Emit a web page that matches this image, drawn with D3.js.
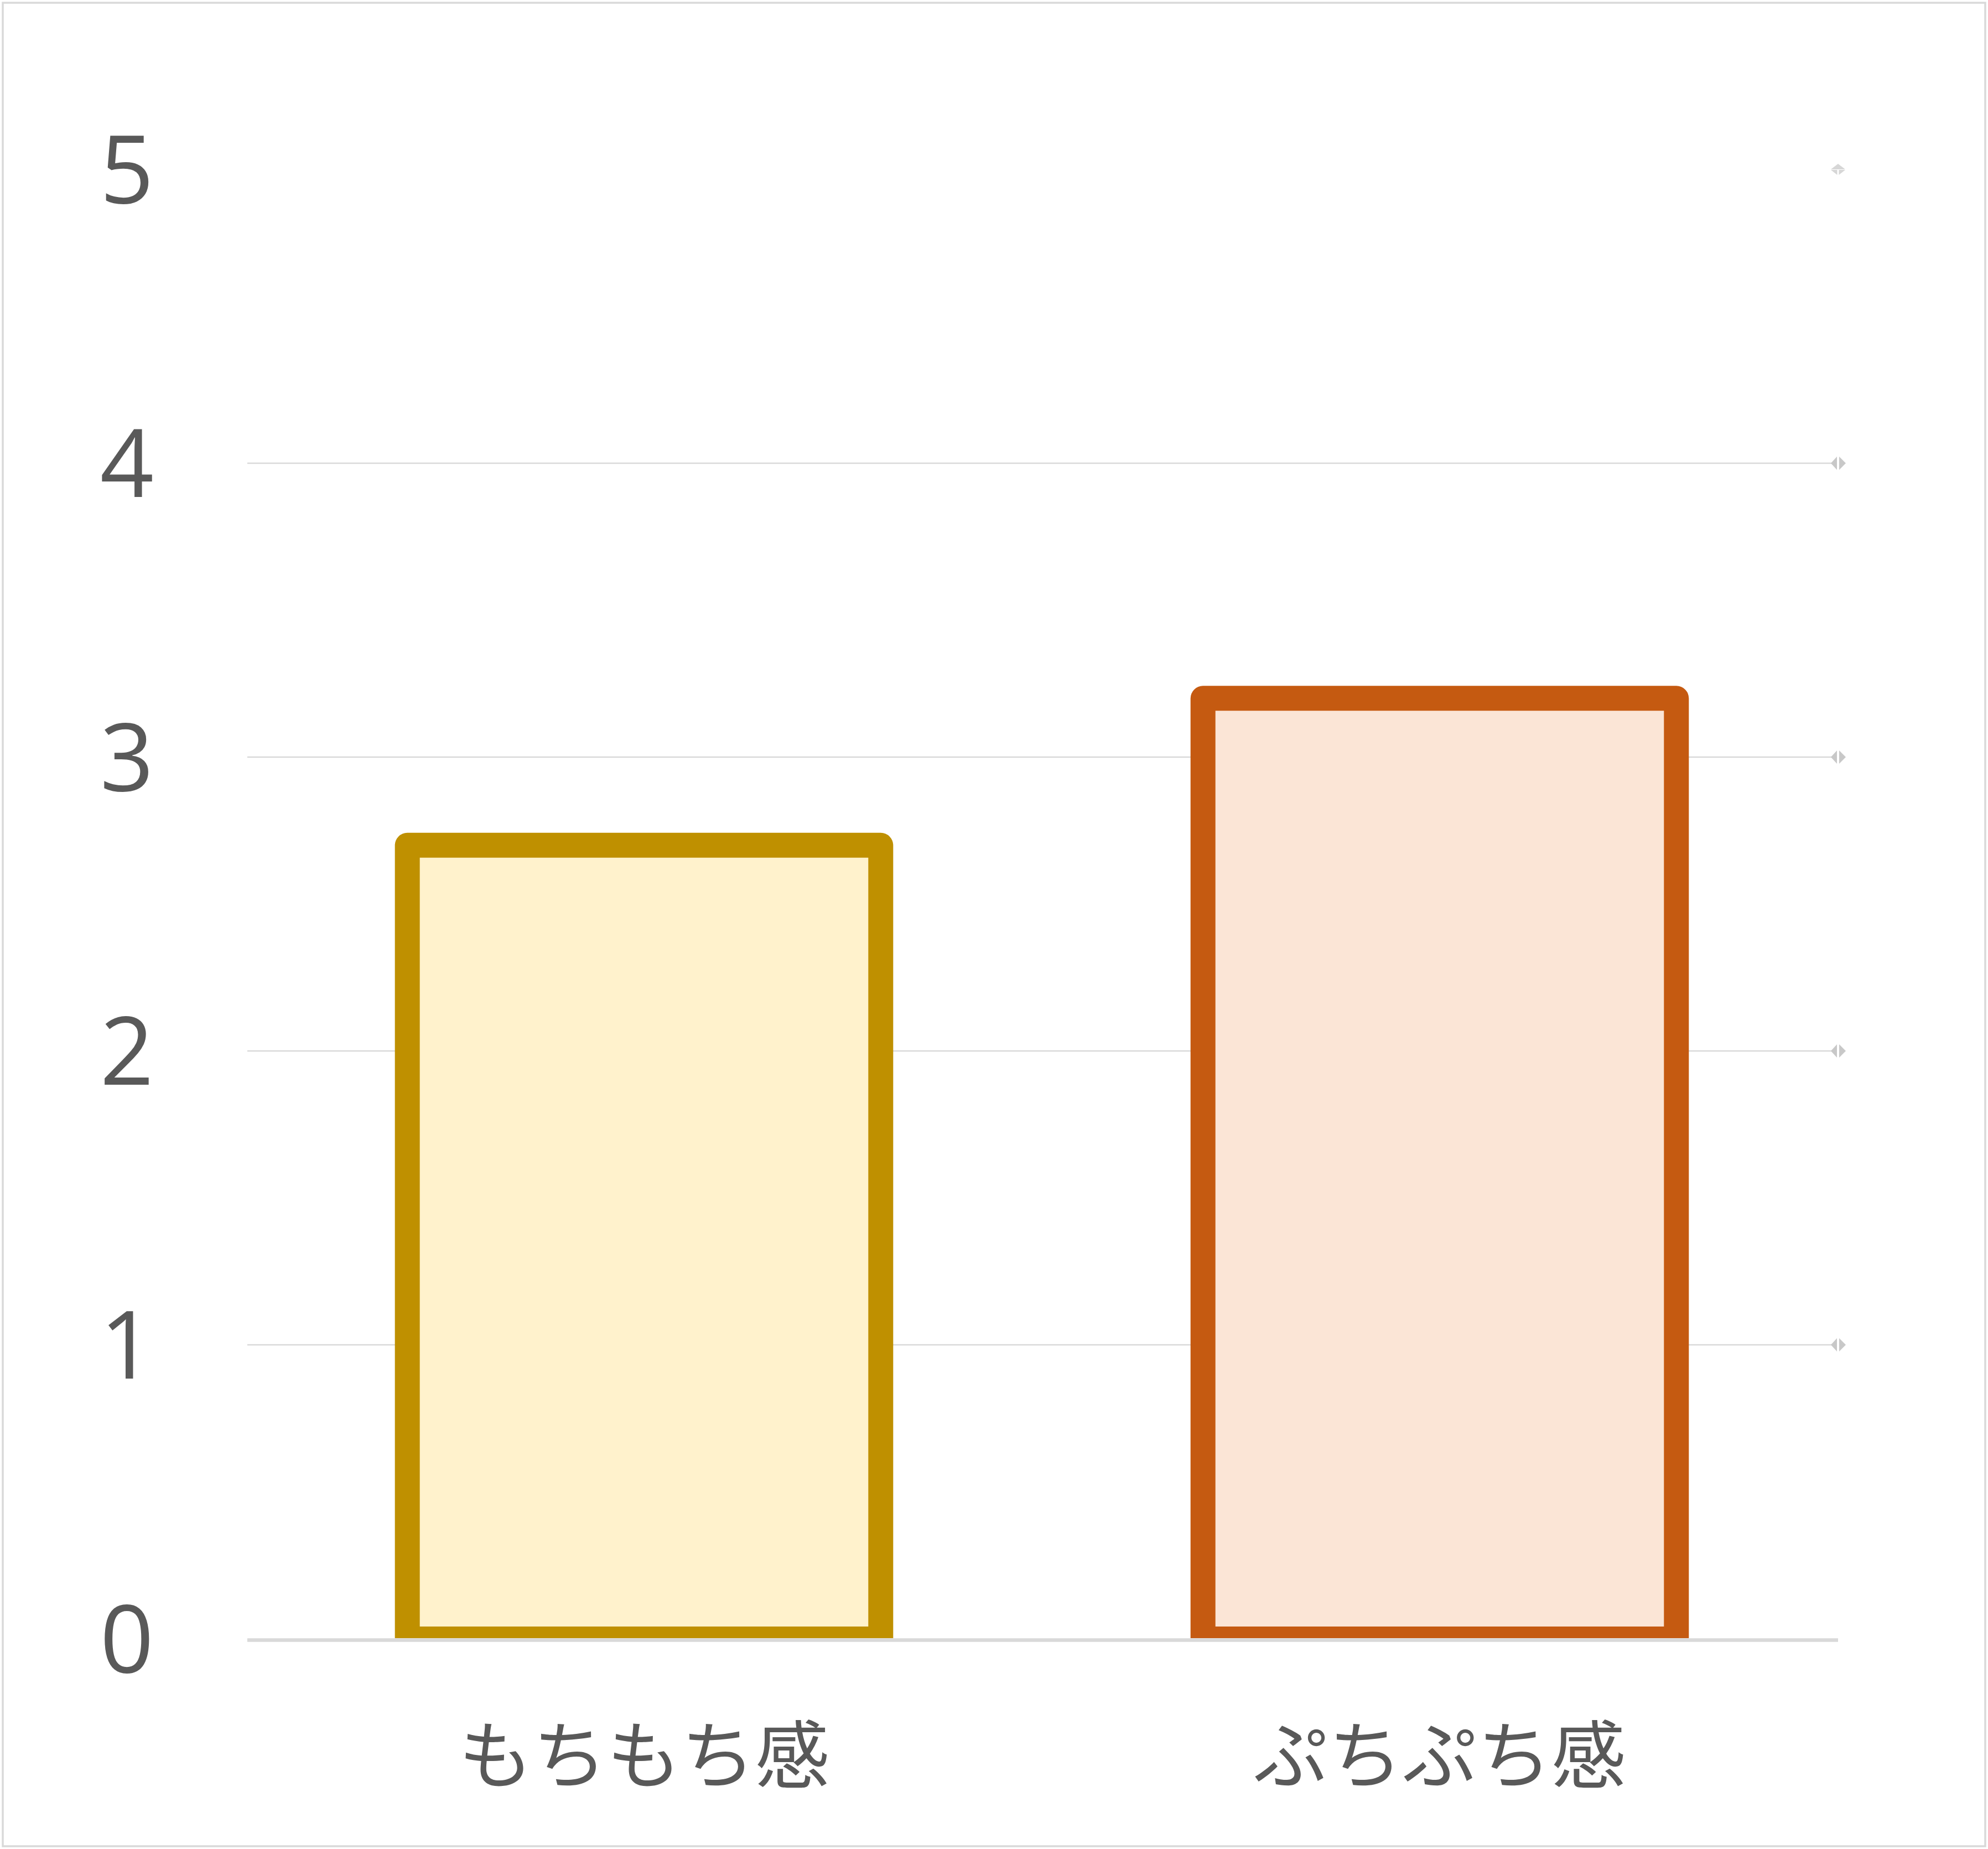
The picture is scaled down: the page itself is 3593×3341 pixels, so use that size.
<!DOCTYPE html>
<html>
<head>
<meta charset="utf-8">
<script src="https://cdn.jsdelivr.net/npm/d3@7"></script>
<style>
  html, body { margin: 0; padding: 0; background: #ffffff; }
  svg { display: block; }
</style>
</head>
<body>
<div id="chart"></div>
<script>
// ---- data ----
const categories = ["もちもち感", "ぷちぷち感"];
const values = [2.7, 3.2];
const yTickValues = [0, 1, 2, 3, 4, 5];
const yTickLabels = ["0", "1", "2", "3", "4", "5"];

// ---- styles ----
const strokeColors = ["#BF9000", "#C55A11"];
const fillColors = ["#FFF2CC", "#FBE5D6"];

const W = 3593, H = 3341;
const svg = d3.select("#chart").append("svg")
  .attr("width", W).attr("height", H);

// outer border
svg.append("rect")
  .attr("x", 5).attr("y", 5)
  .attr("width", W - 10).attr("height", H - 10)
  .attr("fill", "#ffffff")
  .attr("stroke", "#d9d9d9").attr("stroke-width", 3.5);

const plotLeft = 447, plotRight = 3322;
const y = d3.scaleLinear().domain([0, 5]).range([2961, 306]);
const x = d3.scaleBand().domain(categories).range([445, 3321])
  .paddingInner(0.405).paddingOuter(0.2025);

// gridlines (1..4)
const gridTicks = yTickValues.filter(t => t > 0 && t < 5);
svg.append("g").selectAll("line").data(gridTicks).join("line")
  .attr("x1", plotLeft).attr("x2", plotRight - 12)
  .attr("y1", d => y(d)).attr("y2", d => y(d))
  .attr("stroke", "#d9d9d9").attr("stroke-width", 2.5);

// end markers on gridlines
const mk = svg.append("g").attr("fill", "#c8c8c8");
gridTicks.forEach(t => {
  const cx = plotRight, cy = y(t);
  mk.append("path").attr("d",
    `M${cx - 13},${cy} L${cx - 2},${cy - 12} L${cx - 2},${cy + 12} Z`);
  mk.append("path").attr("d",
    `M${cx + 14},${cy} L${cx + 2},${cy - 12} L${cx + 2},${cy + 12} Z`);
});
// top marker at 5
{
  const cx = plotRight, cy = y(5);
  const g5 = svg.append("g").attr("fill", "#d6d6d6");
  g5.append("path").attr("d", `M${cx - 13},${cy} L${cx},${cy - 10} L${cx + 13},${cy} Z`);
  g5.append("path").attr("d", `M${cx - 13},${cy + 1} L${cx - 1.5},${cy + 1} L${cx - 1.5},${cy + 10} Z`);
  g5.append("path").attr("d", `M${cx + 1.5},${cy + 1} L${cx + 13},${cy + 1} L${cx + 1.5},${cy + 10} Z`);
}

// clip for bars
svg.append("defs").append("clipPath").attr("id", "plotclip")
  .append("rect").attr("x", 0).attr("y", 0)
  .attr("width", W).attr("height", y(0) - 1);

svg.append("g").attr("clip-path", "url(#plotclip)")
  .selectAll("rect").data(categories).join("rect")
  .attr("x", d => x(d))
  .attr("width", x.bandwidth())
  .attr("y", (d, i) => y(values[i]))
  .attr("height", (d, i) => y(0) - y(values[i]) + 0.5)
  .attr("fill", (d, i) => fillColors[i])
  .attr("stroke", (d, i) => strokeColors[i])
  .attr("stroke-width", 45)
  .attr("stroke-linejoin", "round");

// baseline axis
svg.append("line")
  .attr("x1", plotLeft).attr("x2", plotRight)
  .attr("y1", y(0) + 2.5).attr("y2", y(0) + 2.5)
  .attr("stroke", "#d9d9d9").attr("stroke-width", 6.5);

// y tick labels
svg.append("g").selectAll("text").data(yTickValues).join("text")
  .attr("x", 278)
  .attr("y", d => y(d))
  .attr("dy", "0.357em")
  .attr("text-anchor", "end")
  .attr("font-family", "'Open Sans', 'Noto Sans', sans-serif")
  .attr("font-size", 170)
  .attr("fill", "#595959")
  .text((d, i) => yTickLabels[i]);

// x category labels
svg.append("g").selectAll("text").data(categories).join("text")
  .attr("x", d => x(d) + x.bandwidth() / 2)
  .attr("y", 3163)
  .attr("dominant-baseline", "central")
  .attr("text-anchor", "middle")
  .attr("font-family", "'Noto Sans CJK JP', sans-serif")
  .attr("font-size", 134)
  .attr("fill", "#595959")
  .text(d => d);
</script>
</body>
</html>
